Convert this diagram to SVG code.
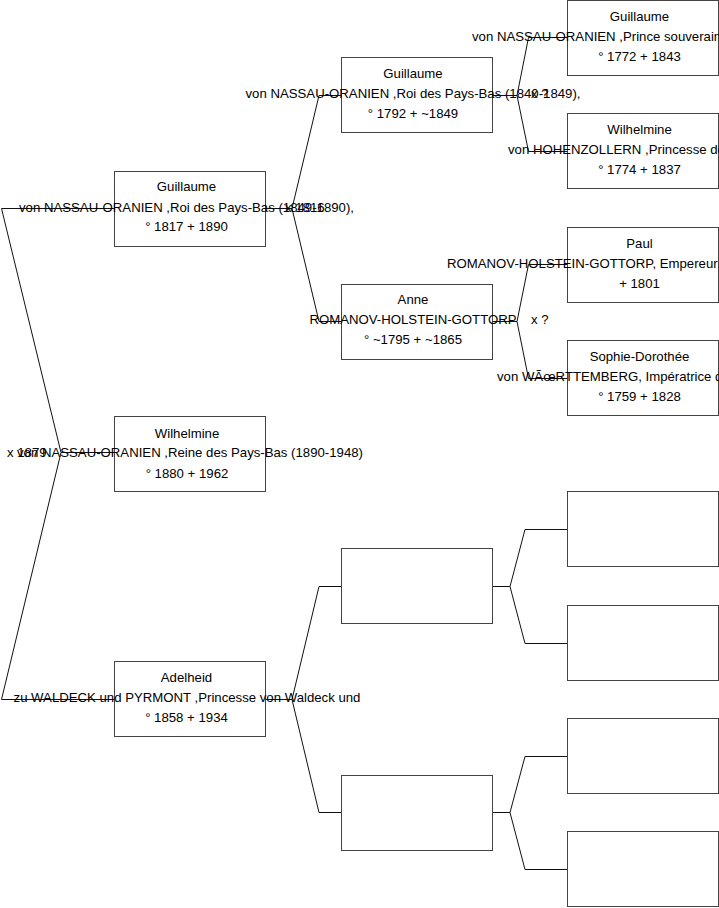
<svg xmlns="http://www.w3.org/2000/svg" width="719" height="908" viewBox="0 0 719 908">
<style>
.box{fill:#fff;stroke:#444;stroke-width:1}
.c{fill:none;stroke:#111;stroke-width:1}
text{font-family:"Liberation Sans",Arial,sans-serif;font-size:13.2px;fill:#000}
.m{text-anchor:middle}
</style>
<rect width="719" height="908" fill="#fff"/>
<g id="connectors">
<path class="c" d="M114,208.5 H1.5 L61,452.5 L1.5,699.5 H114 M61,452.5 H114"/>
<path class="c" d="M265,208.5 H292 L319,95.5 H341 M292,208.5 L319,321.5 H341"/>
<path class="c" d="M265,699.5 H292 L319,586.5 H341 M292,699.5 L319,812.5 H341"/>
<path class="c" d="M492,95.5 H517 L528.5,37.5 H567 M517,95.5 L528.5,151.5 H567"/>
<path class="c" d="M492,321.5 H517 L528.5,264.5 H567 M517,321.5 L528.5,378.5 H567"/>
<path class="c" d="M492,586.5 H510 L525,529.5 H567 M510,586.5 L525,643.5 H567"/>
<path class="c" d="M492,812.5 H510 L525,756.5 H567 M510,812.5 L525,869.5 H567"/>
</g>
<g id="n-guillaume1">
<rect class="box" x="114.5" y="171.5" width="151" height="75"/>
<text class="m" x="186.5" y="191">Guillaume</text>
<text class="m" x="186.5" y="212">von NASSAU-ORANIEN ,Roi des Pays-Bas (1849-1890),</text>
<text class="m" x="186.5" y="231">° 1817 + 1890</text>
</g>
<g id="n-wilhelmine1">
<rect class="box" x="114.5" y="416.5" width="151" height="75"/>
<text class="m" x="187" y="438">Wilhelmine</text>
<text class="m" x="190" y="457">von NASSAU-ORANIEN ,Reine des Pays-Bas (1890-1948)</text>
<text class="m" x="187" y="478">° 1880 + 1962</text>
</g>
<g id="n-adelheid">
<rect class="box" x="114.5" y="661.5" width="151" height="75"/>
<text class="m" x="186.5" y="682">Adelheid</text>
<text class="m" x="187" y="702">zu WALDECK und PYRMONT ,Princesse von Waldeck und</text>
<text class="m" x="186.5" y="722">° 1858 + 1934</text>
</g>
<g id="n-guillaume2">
<rect class="box" x="341.5" y="57.5" width="151" height="75"/>
<text class="m" x="413" y="78">Guillaume</text>
<text class="m" x="413" y="98">von NASSAU-ORANIEN ,Roi des Pays-Bas (1840-1849),</text>
<text class="m" x="413" y="118">° 1792 + ~1849</text>
</g>
<g id="n-anne">
<rect class="box" x="341.5" y="284.5" width="151" height="75"/>
<text class="m" x="413" y="304">Anne</text>
<text class="m" x="413" y="324">ROMANOV-HOLSTEIN-GOTTORP</text>
<text class="m" x="413" y="344">° ~1795 + ~1865</text>
</g>
<g id="n-empty2a"><rect class="box" x="341.5" y="548.5" width="151" height="75"/></g>
<g id="n-empty2b"><rect class="box" x="341.5" y="775.5" width="151" height="75"/></g>
<g id="n-guillaume3">
<rect class="box" x="567.5" y="0.5" width="151" height="75"/>
<text class="m" x="639.5" y="21">Guillaume</text>
<text x="472" y="41">von NASSAU-ORANIEN ,Prince souverain des Pays-Bas</text>
<text class="m" x="639.5" y="61">° 1772 + 1843</text>
</g>
<g id="n-wilhelmine3">
<rect class="box" x="567.5" y="113.5" width="151" height="75"/>
<text class="m" x="639.5" y="134">Wilhelmine</text>
<text x="508" y="154">von HOHENZOLLERN ,Princesse de Prusse</text>
<text class="m" x="639.5" y="174">° 1774 + 1837</text>
</g>
<g id="n-paul">
<rect class="box" x="567.5" y="227.5" width="151" height="75"/>
<text class="m" x="639.5" y="248">Paul</text>
<text x="447" y="268">ROMANOV-HOLSTEIN-GOTTORP, Empereur de Russie (1796-1801),</text>
<text class="m" x="639.5" y="288">+ 1801</text>
</g>
<g id="n-sophie">
<rect class="box" x="567.5" y="340.5" width="151" height="75"/>
<text class="m" x="639.5" y="361">Sophie-Dorothée</text>
<text x="497" y="381">von WÃœRTTEMBERG, Impératrice de Russie</text>
<text class="m" x="639.5" y="401">° 1759 + 1828</text>
</g>
<g id="n-empty3a"><rect class="box" x="567.5" y="491.5" width="151" height="75"/></g>
<g id="n-empty3b"><rect class="box" x="567.5" y="605.5" width="151" height="75"/></g>
<g id="n-empty3c"><rect class="box" x="567.5" y="718.5" width="151" height="75"/></g>
<g id="n-empty3d"><rect class="box" x="567.5" y="831.5" width="151" height="75"/></g>
<g id="marriages">
<text x="7" y="457">x 1879</text>
<text x="285" y="212">x 1816</text>
<text x="531" y="98">x ?</text>
<text x="531" y="324">x ?</text>
</g>
</svg>
